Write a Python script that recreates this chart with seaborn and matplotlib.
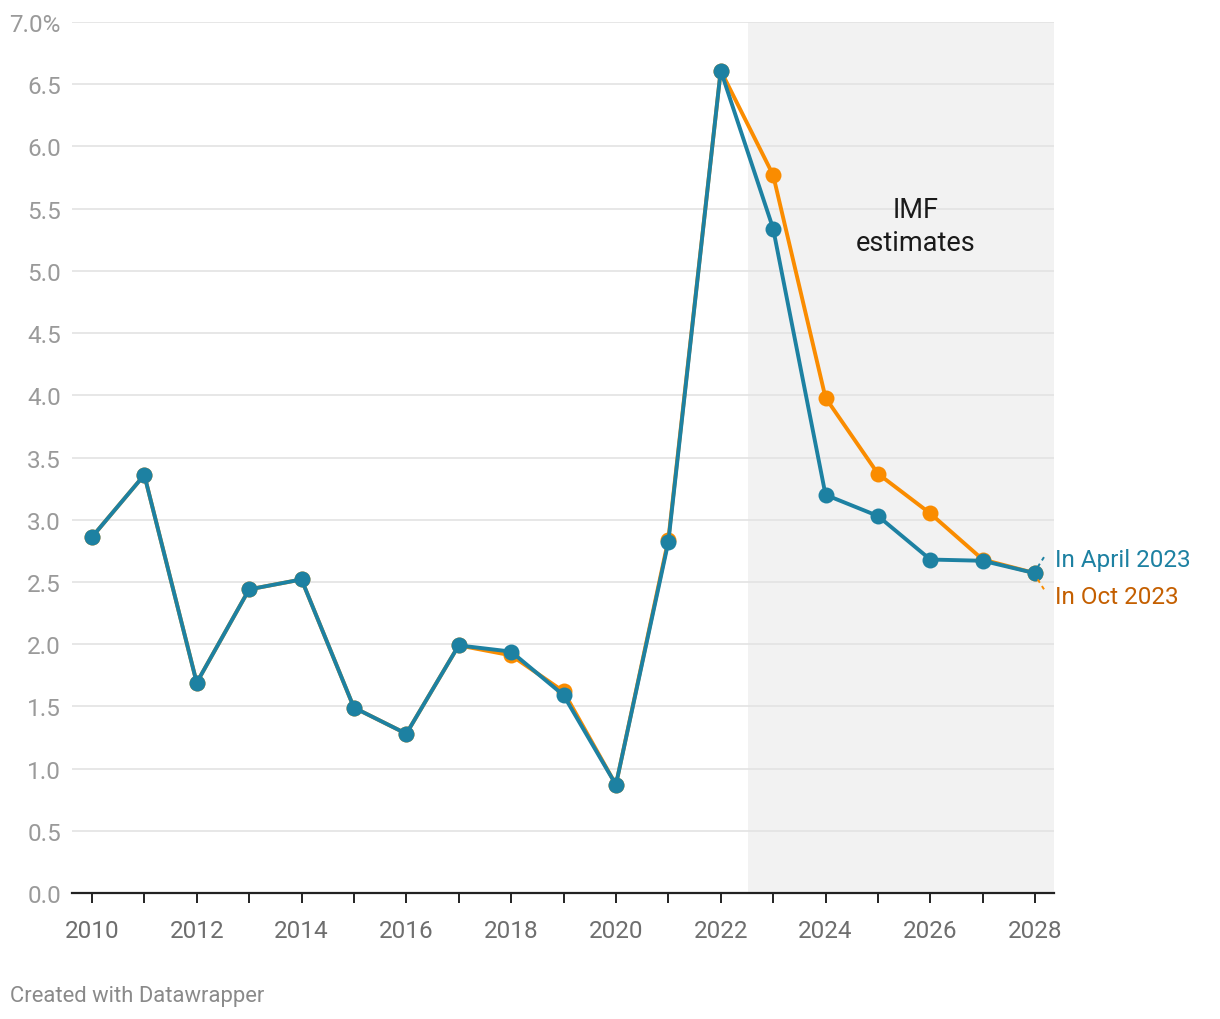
import matplotlib
matplotlib.use("Agg")
import matplotlib.pyplot as plt
import seaborn as sns
import pandas as pd

years = list(range(2010, 2029))
april_2023 = [2.86, 3.36, 1.69, 2.44, 2.52, 1.49, 1.28, 1.99, 1.94, 1.59, 0.87, 2.82,
              6.61, 5.34, 3.20, 3.03, 2.68, 2.67, 2.57]
oct_2023 = [2.86, 3.36, 1.69, 2.44, 2.52, 1.49, 1.28, 1.99, 1.91, 1.62, 0.87, 2.84,
            6.61, 5.77, 3.98, 3.37, 3.05, 2.68, 2.57]
series_names = ["In Oct 2023", "In April 2023"]
y_ticks = [0.0, 0.5, 1.0, 1.5, 2.0, 2.5, 3.0, 3.5, 4.0, 4.5, 5.0, 5.5, 6.0, 6.5, 7.0]
x_ticks = [2010, 2012, 2014, 2016, 2018, 2020, 2022, 2024, 2026, 2028]

teal = "#1d81a2"
orange = "#fa8c00"
orange_text = "#c45f00"

df = pd.DataFrame({
    "year": years * 2,
    "value": oct_2023 + april_2023,
    "series": [series_names[0]] * len(years) + [series_names[1]] * len(years),
})

sns.set_theme(style="white")
plt.rcParams["font.family"] = ["Roboto", "DejaVu Sans"]

fig = plt.figure(figsize=(12.2, 10.2), dpi=100)
ax = fig.add_axes([72 / 1220, 126 / 1020, (1054 - 72) / 1220, (894 - 23) / 1020])

ax.axvspan(2022.52, 2028.4, color="#f2f2f2", zorder=0, lw=0)

sns.lineplot(data=df, x="year", y="value", hue="series", hue_order=series_names,
             palette={series_names[0]: orange, series_names[1]: teal},
             marker="o", markersize=11.5, markeredgewidth=0, linewidth=2.8,
             legend=False, ax=ax, zorder=3)

ax.set_xlim(2009.62, 2028.36)
ax.set_ylim(0, 7.0)
ax.set_yticks(y_ticks)
ax.set_yticklabels([f"{v:.1f}%" if v == 7.0 else f"{v:.1f}" for v in y_ticks])
ax.set_xticks(years, minor=False)
ax.set_xticklabels([str(y) if y in x_ticks else "" for y in years])
ax.grid(axis="y", color="#e3e3e3", linewidth=1.2, zorder=1)
ax.grid(axis="x", visible=False)
ax.set_axisbelow(True)
for s in ["top", "right", "left"]:
    ax.spines[s].set_visible(False)
ax.spines["bottom"].set_color("#222222")
ax.spines["bottom"].set_linewidth(1.6)
ax.spines["bottom"].set_zorder(2)
ax.tick_params(axis="x", bottom=True, length=7, width=1.4, color="#222222",
               labelsize=17.5, labelcolor="#6e6e6e", pad=12)
ax.tick_params(axis="y", left=False, length=0, labelsize=17.5, labelcolor="#9a9a9a", pad=8)
ax.set_xlabel("")
ax.set_ylabel("")

ax.text(2025.71, 5.36, "IMF\nestimates", ha="center", va="center", fontsize=19.5,
        color="#1a1a1a", linespacing=1.3)

# end labels with short dashed connectors
ax.plot([2028.05, 2028.2], [2.62, 2.72], color=teal, lw=1.4, ls=(0, (2, 2)),
        clip_on=False, zorder=4)
ax.plot([2028.05, 2028.2], [2.52, 2.42], color=orange, lw=1.4, ls=(0, (2, 2)),
        clip_on=False, zorder=4)
ax.text(2028.38, 2.684, series_names[1], ha="left", va="center", fontsize=17.5,
        color=teal, clip_on=False)
ax.text(2028.38, 2.379, series_names[0], ha="left", va="center", fontsize=17.5,
        color=orange_text, clip_on=False)

fig.text(10 / 1220, 1 - 997 / 1020, "Created with Datawrapper", ha="left", va="center",
         fontsize=15.8, color="#8a8a8a")

fig.savefig("out.png", dpi=100)
